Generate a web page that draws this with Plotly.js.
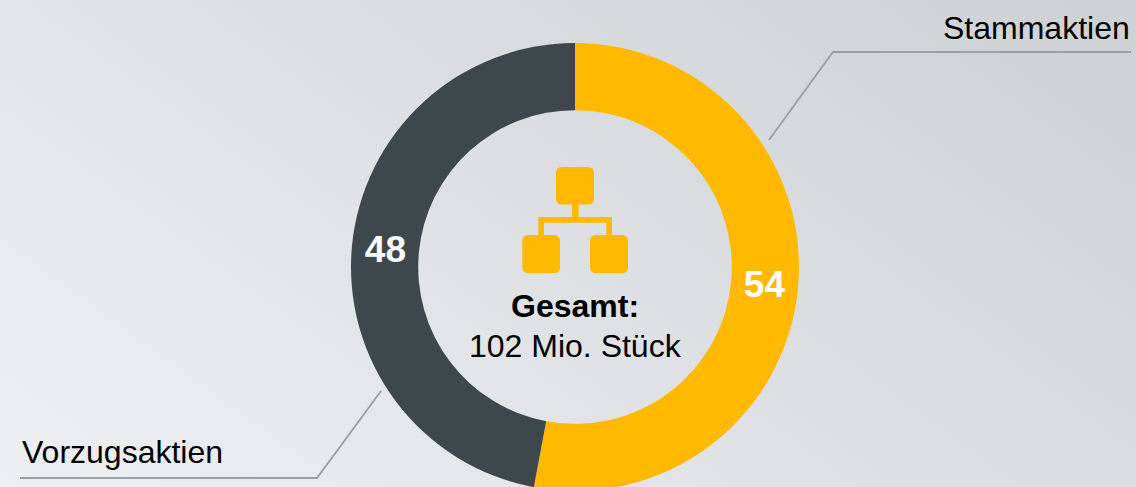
<!DOCTYPE html>
<html><head><meta charset="utf-8">
<script src="https://cdn.plot.ly/plotly-3.0.1.min.js"></script>
<style>
html,body{margin:0;padding:0;width:1136px;height:487px;overflow:hidden;
background:linear-gradient(36deg,#eeeff1 0%,#cdd1d4 100%);}
#chart{width:1136px;height:534px;}
</style></head><body><div id="chart"></div>
<script>
const categories = ["Stammaktien", "Vorzugsaktien"];
const values = [54, 48];
const sliceColors = ["#FFB900", "#3E474C"];
const centerTitle = "Gesamt:";
const centerValue = "102 Mio. Stück";

const W = 1136, H = 534;
const px = x => (x / W).toFixed(5);
const py = y => (1 - y / H).toFixed(5);
function poly(pts){ return pts.map((p,i)=>(i?"L":"M")+px(p[0])+","+py(p[1])).join(" "); }
function rrect(x0,y0,x1,y1,r){
  const P=(x,y)=>px(x)+","+py(y);
  return "M"+P(x0+r,y0)+" L"+P(x1-r,y0)+" Q"+P(x1,y0)+" "+P(x1,y0+r)+
    " L"+P(x1,y1-r)+" Q"+P(x1,y1)+" "+P(x1-r,y1)+
    " L"+P(x0+r,y1)+" Q"+P(x0,y1)+" "+P(x0,y1-r)+
    " L"+P(x0,y0+r)+" Q"+P(x0,y0)+" "+P(x0+r,y0)+" Z";
}
const fillShape = path => ({type:"path",xref:"paper",yref:"paper",path,fillcolor:"#FFB900",line:{width:0}});
const leader = pts => ({type:"path",xref:"paper",yref:"paper",path:poly(pts),fillcolor:"rgba(0,0,0,0)",line:{color:"#9A9FA4",width:1.8}});
const shapes = [
  leader([[769,140],[833,52],[1131,52]]),
  leader([[381,391],[317,478],[20,478]]),
  fillShape(rrect(556,167,594,204.5,6)),
  fillShape(rrect(522.3,235,560,273,6)),
  fillShape(rrect(590,235,628,273,6)),
  fillShape(poly([[572,204],[578.6,204],[578.6,217],[612,217],[612,236],[606.3,236],[606.3,222.7],[544,222.7],[544,236],[538.3,236],[538.3,217],[572,217]])+" Z")
];
const font = "Liberation Sans, Arial, sans-serif";
const ann = (text,x,y,size,anchor) => ({text,xref:"paper",yref:"paper",x:x/W,y:1-y/H,xanchor:anchor,yanchor:"middle",showarrow:false,font:{family:font,size,color:"#000"}});
Plotly.newPlot("chart",[{
  type:"pie",labels:categories,values:values,hole:0.7,sort:false,direction:"clockwise",rotation:0,
  domain:{x:[351/W,799/W],y:[(H-491)/H,(H-43)/H]},
  marker:{colors:sliceColors,line:{width:0}},
  textinfo:"value",textposition:"inside",insidetextorientation:"horizontal",
  textfont:{family:font,size:37,color:"#fff",weight:"bold"},
  hoverinfo:"label+value",showlegend:false
}],{
  width:W,height:H,margin:{l:0,r:0,t:0,b:0},paper_bgcolor:"rgba(0,0,0,0)",plot_bgcolor:"rgba(0,0,0,0)",
  showlegend:false,shapes,
  annotations:[
    ann(categories[0],1132,28,32,"right"),
    ann(categories[1],20,452,32,"left"),
    ann("<b>"+centerTitle+"</b>",575,306,32,"center"),
    ann(centerValue,575,346,32,"center")
  ]
},{displayModeBar:false,staticPlot:true});
</script></body></html>
